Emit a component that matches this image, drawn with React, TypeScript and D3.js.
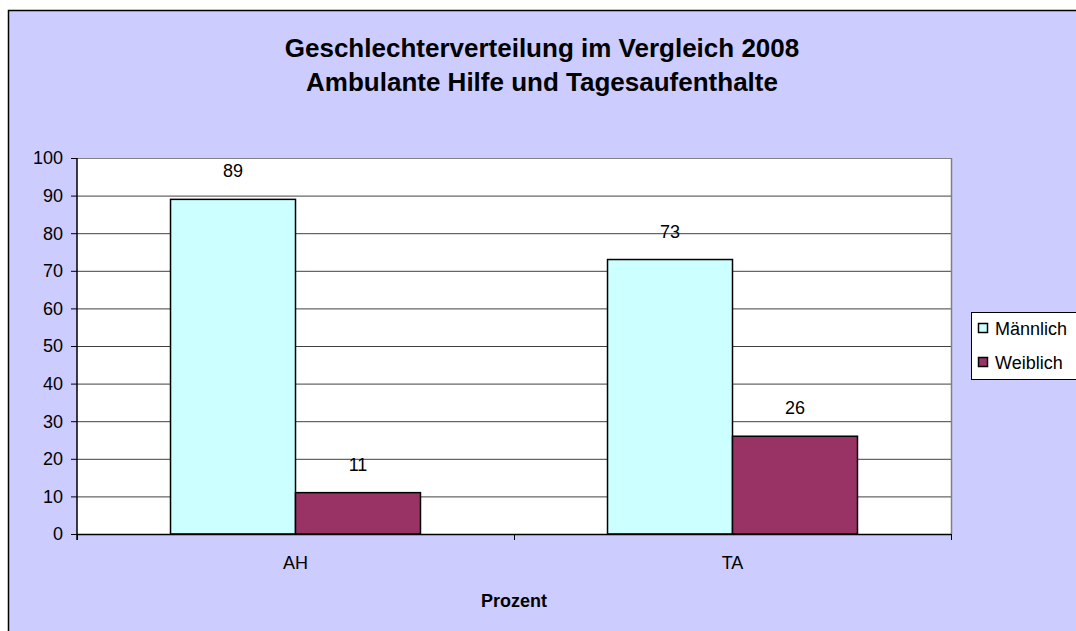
import { scaleBand, scaleLinear } from "d3";

const categories = ["AH", "TA"];
const seriesNames = ["Männlich", "Weiblich"];
const maennlich = [89, 73];
const weiblich = [11, 26];
const yTicks = [0, 10, 20, 30, 40, 50, 60, 70, 80, 90, 100];
const titleLines = [
  "Geschlechterverteilung im Vergleich 2008",
  "Ambulante Hilfe und Tagesaufenthalte",
];
const xAxisTitle = "Prozent";

const colors = ["#CCFFFF", "#993366"];
const font = "Arial, 'Liberation Sans', sans-serif";

export default function App() {
  const width = 1076;
  const height = 631;
  const plot = { left: 77, right: 951, top: 158, bottom: 534 };

  const y = scaleLinear().domain([0, 100]).range([plot.bottom, plot.top]);
  const x = scaleBand<string>()
    .domain(categories)
    .range([plot.left, plot.right])
    .paddingInner(0.428)
    .paddingOuter(0.214);
  const inner = scaleBand<string>()
    .domain(seriesNames)
    .range([0, x.bandwidth()]);

  const series = [maennlich, weiblich];
  // category boundaries for the x axis tick marks
  const xTickPos = [plot.left, (plot.left + plot.right) / 2, plot.right];

  return (
    <svg
      width={width}
      height={height}
      style={{ position: "absolute", left: 0, top: 0 }}
      fontFamily={font}
    >
      <rect x={0} y={0} width={width} height={height} fill="#ffffff" />
      <rect
        x={8.5}
        y={10.5}
        width={width + 10}
        height={height + 10}
        fill="#CCCCFF"
        stroke="#000000"
        strokeWidth={1.5}
      />

      {titleLines.map((t, i) => (
        <text
          key={t}
          x={542}
          y={57 + i * 34}
          textAnchor="middle"
          fontSize={26}
          fontWeight="bold"
          fill="#000"
        >
          {t}
        </text>
      ))}

      <rect
        x={plot.left}
        y={plot.top}
        width={plot.right - plot.left}
        height={plot.bottom - plot.top}
        fill="#ffffff"
      />
      <g>
        {yTicks.map((t) => (
          <line
            key={`g-${t}`}
            x1={plot.left}
            x2={plot.right}
            y1={y(t) + 0.5}
            y2={y(t) + 0.5}
            stroke={t === 100 ? "#808080" : "#404040"}
            strokeWidth={1}
          />
        ))}
        <line
          x1={plot.right + 0.5}
          x2={plot.right + 0.5}
          y1={plot.top}
          y2={plot.bottom}
          stroke="#808080"
          strokeWidth={1.5}
        />
      </g>

      {categories.map((c, ci) =>
        seriesNames.map((s, si) => {
          const v = series[si][ci];
          const bx = (x(c) ?? 0) + (inner(s) ?? 0);
          const bw = inner.bandwidth();
          return (
            <g key={`${c}-${s}`}>
              <rect
                x={bx}
                y={y(v)}
                width={bw}
                height={y(0) - y(v)}
                fill={colors[si]}
                stroke="#000"
                strokeWidth={1.5}
              />
              <text
                x={bx + bw / 2}
                y={y(v) - 22}
                textAnchor="middle"
                fontSize={18}
                fill="#000"
              >
                {v}
              </text>
            </g>
          );
        }),
      )}

      {/* y axis */}
      <line
        x1={plot.left}
        x2={plot.left}
        y1={plot.top}
        y2={plot.bottom + 6}
        stroke="#000"
        strokeWidth={1.5}
      />
      {yTicks.map((t) => (
        <g key={`t-${t}`}>
          <line
            x1={plot.left - 6}
            x2={plot.left}
            y1={y(t) + 0.5}
            y2={y(t) + 0.5}
            stroke="#000"
            strokeWidth={1}
          />
          <text
            x={63}
            y={y(t)}
            dy="0.35em"
            textAnchor="end"
            fontSize={18}
            fill="#000"
          >
            {t}
          </text>
        </g>
      ))}

      {/* x axis */}
      <line
        x1={plot.left}
        x2={plot.right}
        y1={plot.bottom + 0.5}
        y2={plot.bottom + 0.5}
        stroke="#000"
        strokeWidth={1.5}
      />
      {xTickPos.map((tx, i) => (
        <line
          key={`xt-${i}`}
          x1={tx + 0.5}
          x2={tx + 0.5}
          y1={plot.bottom}
          y2={plot.bottom + 6}
          stroke="#000"
          strokeWidth={1}
        />
      ))}
      {categories.map((c) => (
        <text
          key={`xl-${c}`}
          x={(x(c) ?? 0) + x.bandwidth() / 2}
          y={569}
          textAnchor="middle"
          fontSize={18}
          fill="#000"
        >
          {c}
        </text>
      ))}
      <text
        x={(plot.left + plot.right) / 2}
        y={607}
        textAnchor="middle"
        fontSize={18}
        fontWeight="bold"
        fill="#000"
      >
        {xAxisTitle}
      </text>

      {/* legend */}
      <rect
        x={971.5}
        y={312.5}
        width={120}
        height={67}
        fill="#ffffff"
        stroke="#000"
        strokeWidth={1}
      />
      {seriesNames.map((s, i) => (
        <g key={`lg-${s}`}>
          <rect
            x={978.5}
            y={323.5 + i * 34}
            width={9}
            height={9}
            fill={colors[i]}
            stroke="#000"
            strokeWidth={1.5}
          />
          <text x={995} y={335 + i * 34} fontSize={18} fill="#000">
            {s}
          </text>
        </g>
      ))}
    </svg>
  );
}
